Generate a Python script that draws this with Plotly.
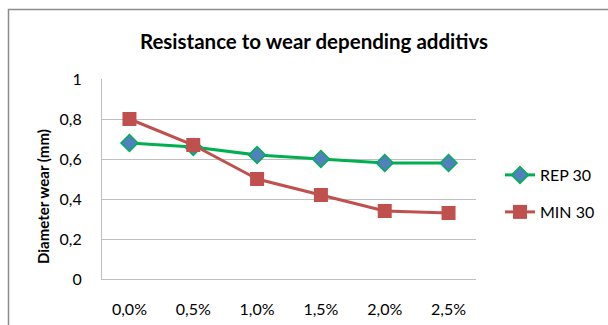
import plotly.graph_objects as go

categories = ["0,0%", "0,5%", "1,0%", "1,5%", "2,0%", "2,5%"]
rep30 = [0.68, 0.66, 0.62, 0.60, 0.58, 0.58]
min30 = [0.80, 0.67, 0.50, 0.42, 0.34, 0.33]
y_ticks = [0, 0.2, 0.4, 0.6, 0.8, 1]
y_tick_labels = ["0", "0,2", "0,4", "0,6", "0,8", "1"]

FONT = "Lato, Calibri, sans-serif"
W, H = 608, 325
L, R, T, B = 102, 132, 79, 46

fig = go.Figure()
fig.add_trace(go.Scatter(
    x=categories, y=rep30, name="REP 30", mode="lines+markers",
    line=dict(color="#00B050", width=3),
    marker=dict(symbol="diamond", size=13, color="#4F81BD",
                line=dict(color="#00B050", width=1.5)),
    legend="legend",
))
fig.add_trace(go.Scatter(
    x=categories, y=min30, name="MIN 30", mode="lines+markers",
    line=dict(color="#C0504D", width=3),
    marker=dict(symbol="square", size=14, color="#C0504D",
                line=dict(color="#C0504D", width=0)),
    legend="legend2",
))

pw = W - L - R
ph = H - T - B
def px(x):
    return (x - L) / pw
def py(y):
    return (H - B - y) / ph

fig.add_shape(type="rect", xref="paper", yref="paper",
              x0=px(8.5), y0=py(400), x1=px(700), y1=py(9.5),
              line=dict(color="#8C8C8C", width=1.5), layer="below")

fig.add_annotation(text="<b>Diameter wear (mm)</b>", xref="paper", yref="paper",
                   x=px(43), y=py(197), xanchor="center", yanchor="middle",
                   textangle=-90, showarrow=False,
                   font=dict(family=FONT, size=15, color="#000000"))

fig.update_layout(
    width=W, height=H,
    margin=dict(l=L, r=R, t=T, b=B, pad=0, autoexpand=False),
    paper_bgcolor="white", plot_bgcolor="white",
    font=dict(family=FONT, size=15, color="#000000"),
    title=dict(text="<b>Resistance to wear depending additivs</b>",
               x=314 / W, xanchor="center", y=1 - 42 / H, yanchor="middle",
               font=dict(family=FONT, size=20.5, color="#000000"),
               automargin=False),
    showlegend=True,
    legend=dict(x=px(500), y=py(175), xanchor="left", yanchor="middle",
                bgcolor="rgba(0,0,0,0)", font=dict(family=FONT, size=16),
                itemwidth=30, tracegroupgap=0),
    legend2=dict(x=px(500), y=py(212), xanchor="left", yanchor="middle",
                 bgcolor="rgba(0,0,0,0)", font=dict(family=FONT, size=16),
                 itemwidth=30, tracegroupgap=0),
    xaxis=dict(type="category", showgrid=False, showline=True, automargin=False,
               linecolor="#BFBFBF", linewidth=1, ticks="", tickfont=dict(size=16),
               ticklabelstandoff=16, zeroline=False),
    yaxis=dict(range=[0, 1], tickvals=y_ticks, ticktext=y_tick_labels,
               showgrid=True, gridcolor="#BFBFBF", gridwidth=1, automargin=False,
               showline=True, linecolor="#BFBFBF", linewidth=1, ticks="",
               zeroline=False, tickfont=dict(size=16), ticklabelstandoff=16),
)

fig.write_html("out.html", config={"displayModeBar": False},
               post_script="document.body.style.margin='0';")
